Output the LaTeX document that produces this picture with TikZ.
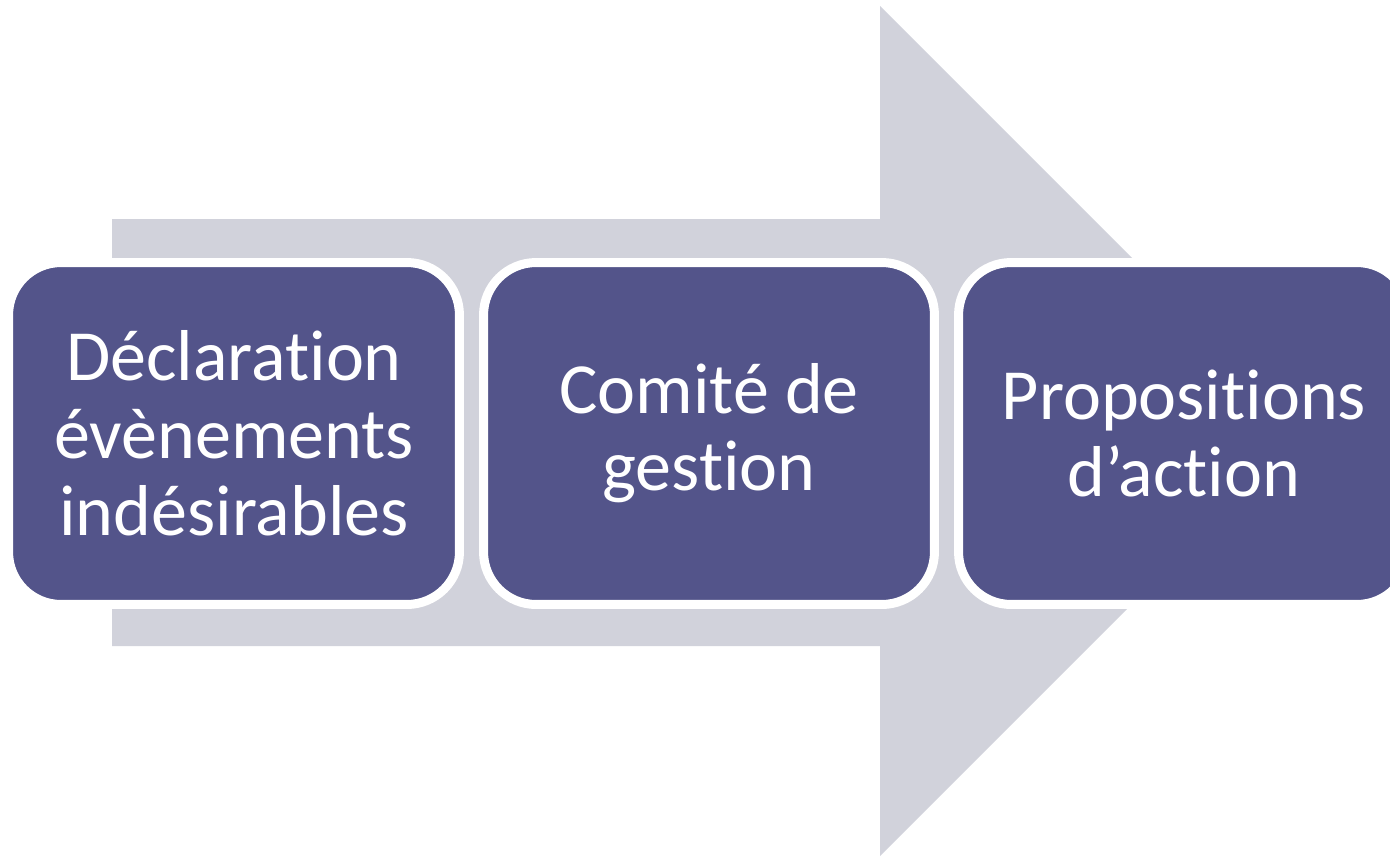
\documentclass[tikz,border=0pt]{standalone}
\usepackage{fontspec}
\setmainfont{Carlito}[Ligatures=NoCommon]
\definecolor{flowgray}{HTML}{D1D2DB}
\definecolor{steppurple}{HTML}{53548A}
\begin{document}
\begin{tikzpicture}[
    x=0.02cm, y=-0.02cm,
    stage/.style={rectangle, rounded corners=1.05cm, fill=steppurple, draw=white, line width=0.18cm,
        text=white, align=center, minimum width=9.02cm, minimum height=6.84cm,
        font=\fontsize{41}{44}\selectfont},
    bigarrow/.style={fill=flowgray}
]
    \useasboundingbox (0,0) rectangle (1390,856);

    % Background arrow
    \fill[bigarrow] (112,219) -- (880,219) -- (880,6) -- (1305,431)
        -- (880,856) -- (880,646) -- (112,646) -- cycle;

    % Process steps
    \node[stage] (declaration) at (234,433.5) {Déclaration\\évènements\\indésirables};
    \node[stage] (comite) at (709,433.5) {Comité de\\gestion};
    \node[stage] (propositions) at (1184,433.5) {Propositions\\d’action};
\end{tikzpicture}
\end{document}
